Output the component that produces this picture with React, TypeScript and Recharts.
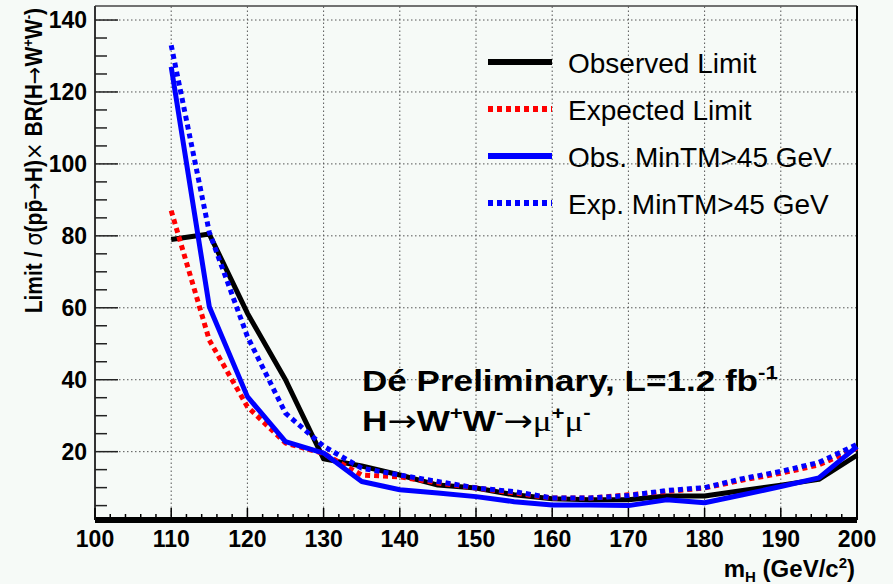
import { LineChart, Line, XAxis, YAxis, ReferenceLine, Legend } from 'recharts';

// Higgs mass points (GeV/c^2)
const masses = [110, 115, 120, 125, 130, 135, 140, 145, 150, 155, 160, 165, 170, 175, 180, 185, 190, 195, 200];

// 95% CL limits relative to SM, H -> WW -> mu mu
const observedLimit = [79, 80.5, 58.5, 40, 18, 16, 13.5, 10.7, 9.9, 8, 6.9, 6.6, 6.6, 7.7, 7.7, 9.2, 10.7, 12.3, 19];
const expectedLimit = [87, 51, 32.5, 22.4, 19.5, 13.5, 13, 11.3, 9.9, 8.5, 7.1, 7.1, 8, 8.9, 9.9, 12.1, 14, 16.3, 21];
const obsMinTM = [127, 60.3, 35.3, 22.8, 19.6, 11.7, 9.4, 8.5, 7.5, 6.1, 5.2, 5.2, 5.0, 6.6, 5.8, 8, 10.3, 12.7, 21.4];
const expMinTM = [133, 81, 52, 30.7, 21.5, 15.4, 13.5, 11.7, 9.9, 8.9, 7.1, 7.1, 7.8, 9.2, 10, 12.5, 14.5, 17, 22];

const xLabels = [100, 110, 120, 130, 140, 150, 160, 170, 180, 190, 200];
const yLabels = [20, 40, 60, 80, 100, 120, 140];
const X_MINOR = 2;
const Y_MINOR = 5;
const Y_MIN = 1;
const Y_MAX = 143.9;

const xTicks: number[] = [];
for (let v = 100; v <= 200; v += X_MINOR) xTicks.push(v);
const yTicks: number[] = [];
for (let v = Y_MINOR; v <= 140; v += Y_MINOR) yTicks.push(v);

const data = masses.map((m, i) => ({
  m,
  obs: observedLimit[i],
  exp: expectedLimit[i],
  obsTM: obsMinTM[i],
  expTM: expMinTM[i],
}));

const series = [
  { key: 'obs', name: 'Observed Limit', color: '#000000', dash: undefined as string | undefined },
  { key: 'exp', name: 'Expected Limit', color: '#ff0000', dash: '5 4' },
  { key: 'obsTM', name: 'Obs. MinTM>45 GeV', color: '#0000ff', dash: undefined },
  { key: 'expTM', name: 'Exp. MinTM>45 GeV', color: '#0000ff', dash: '5 4' },
];

const FONT = "'Liberation Sans', Arial, Helvetica, sans-serif";
const SYMBOL = "'DejaVu Sans', sans-serif";
const SERIF = "'Liberation Serif', serif";
const BG = '#f6faf7';

// ticks point into the frame, ROOT style
const XTick = (props: any) => {
  const { x, y, payload } = props;
  const major = xLabels.includes(payload.value);
  return (
    <g>
      <line x1={x} y1={y} x2={x} y2={y - (major ? 12 : 6)} stroke="#000" strokeWidth={1.5} />
      {major && (
        <text x={x} y={y + 27} textAnchor="middle" fontFamily={FONT} fontWeight="bold" fontSize={23} fill="#000">
          {payload.value}
        </text>
      )}
    </g>
  );
};

const YTick = (props: any) => {
  const { x, y, payload } = props;
  const major = yLabels.includes(payload.value);
  return (
    <g>
      <line x1={x} y1={y} x2={x + (major ? 23 : 12)} y2={y} stroke="#222" strokeWidth={1.5} />
      {major && (
        <text x={x - 8} y={y} dy="0.36em" textAnchor="end" fontFamily={FONT} fontWeight="bold" fontSize={23} fill="#000">
          {payload.value}
        </text>
      )}
    </g>
  );
};

const YTitle = () => (
  <text
    transform="translate(42,8) scale(1.12,1) rotate(-90)"
    x={0}
    y={0}
    textAnchor="end"
    fontFamily={FONT}
    fontWeight="bold"
    fontSize={21}
    fill="#000"
  >
    Limit / <tspan fontFamily={SYMBOL} fontWeight="normal">σ</tspan>(pp̄<tspan fontFamily={SYMBOL} fontWeight="normal">→</tspan>H)
    <tspan fontFamily={SYMBOL} fontWeight="normal">×</tspan> BR(H<tspan fontFamily={SYMBOL} fontWeight="normal">→</tspan>W
    <tspan dy={-8} fontSize={13}>+</tspan>
    <tspan dy={8}>W</tspan>
    <tspan dy={-8} fontSize={13}>-</tspan>
    <tspan dy={8}>)</tspan>
  </text>
);

const XTitle = () => (
  <text x={855} y={577} textAnchor="end" fontFamily={FONT} fontWeight="bold" fontSize={24} fill="#000">
    m<tspan dy={5} fontSize={15}>H</tspan>
    <tspan dy={-5}> (GeV/c</tspan>
    <tspan dy={-9} fontSize={15}>2</tspan>
    <tspan dy={9}>)</tspan>
  </text>
);

const renderLegend = () => (
  <div style={{ fontFamily: FONT }}>
    {series.map((s) => (
      <div key={s.key} style={{ display: 'flex', alignItems: 'center', height: 47 }}>
        <svg width={64} height={8}>
          <line x1={0} y1={4} x2={64} y2={4} stroke={s.color} strokeWidth={6} strokeDasharray={s.dash} />
        </svg>
        <span style={{ marginLeft: 16, fontSize: 28, color: '#000', position: 'relative', top: 2, whiteSpace: 'nowrap' }}>
          {s.name}
        </span>
      </div>
    ))}
  </div>
);

export default function App() {
  return (
    <div style={{ position: 'absolute', left: 0, top: 0, width: 893, height: 584, background: BG }}>
      <LineChart width={893} height={584} data={data} margin={{ top: 6, right: 36, bottom: 0, left: 0 }}>
        <XAxis
          dataKey="m"
          type="number"
          domain={[100, 200]}
          ticks={xTicks}
          interval={0}
          tickSize={0}
          tickMargin={0}
          tickLine={false}
          tick={<XTick />}
          height={64}
          axisLine={{ stroke: '#000', strokeWidth: 6 }}
          label={<XTitle />}
        />
        <YAxis
          type="number"
          domain={[Y_MIN, Y_MAX]}
          allowDataOverflow
          ticks={yTicks}
          interval={0}
          tickSize={0}
          tickMargin={0}
          tickLine={false}
          tick={<YTick />}
          width={95}
          axisLine={{ stroke: '#333', strokeWidth: 2 }}
          label={<YTitle />}
        />
        {/* dotted grid at the labelled values */}
        {xLabels.slice(1, -1).map((v) => (
          <ReferenceLine key={'gx' + v} x={v} stroke="#555" strokeWidth={1} strokeDasharray="1.5 2.5" />
        ))}
        {yLabels.map((v) => (
          <ReferenceLine key={'gy' + v} y={v} stroke="#555" strokeWidth={1} strokeDasharray="1.5 2.5" />
        ))}
        {/* frame */}
        <ReferenceLine y={Y_MAX} stroke="#444" strokeWidth={1.5} />
        <ReferenceLine x={200} stroke="#000" strokeWidth={2} />
        {series.map((s) => (
          <Line
            key={s.key}
            type="linear"
            dataKey={s.key}
            name={s.name}
            stroke={s.color}
            strokeWidth={5}
            strokeDasharray={s.dash}
            strokeLinejoin="round"
            dot={false}
            activeDot={false}
            isAnimationActive={false}
          />
        ))}
        <Legend
          layout="vertical"
          align="center"
          verticalAlign="middle"
          wrapperStyle={{ left: 488, top: 38, width: 380 }}
          content={renderLegend}
        />
      </LineChart>
      <svg width={893} height={584} style={{ position: 'absolute', left: 0, top: 0, pointerEvents: 'none' }}>
        <g transform="translate(362,391) scale(1.17,1)" fontFamily={FONT} fontWeight="bold" fontSize={30} fill="#000">
          <text x={0} y={0}>
            Dé Preliminary, L=1.2 fb<tspan dy={-12} fontSize={19}>-1</tspan>
          </text>
        </g>
        <g transform="translate(362,431) scale(1.17,1)" fontFamily={FONT} fontWeight="bold" fontSize={30} fill="#000">
          <text x={0} y={0}>
            H<tspan fontFamily={SYMBOL} fontWeight="normal">→</tspan>W<tspan dy={-12} fontSize={19}>+</tspan>
            <tspan dy={12}>W</tspan>
            <tspan dy={-12} fontSize={19}>-</tspan>
            <tspan dy={12} fontFamily={SYMBOL} fontWeight="normal">→</tspan>
            <tspan fontFamily={SERIF} fontWeight="normal">μ</tspan>
            <tspan dy={-12} fontSize={19}>+</tspan>
            <tspan dy={12} fontFamily={SERIF} fontWeight="normal">μ</tspan>
            <tspan dy={-12} fontSize={19}>-</tspan>
          </text>
        </g>
      </svg>
    </div>
  );
}
